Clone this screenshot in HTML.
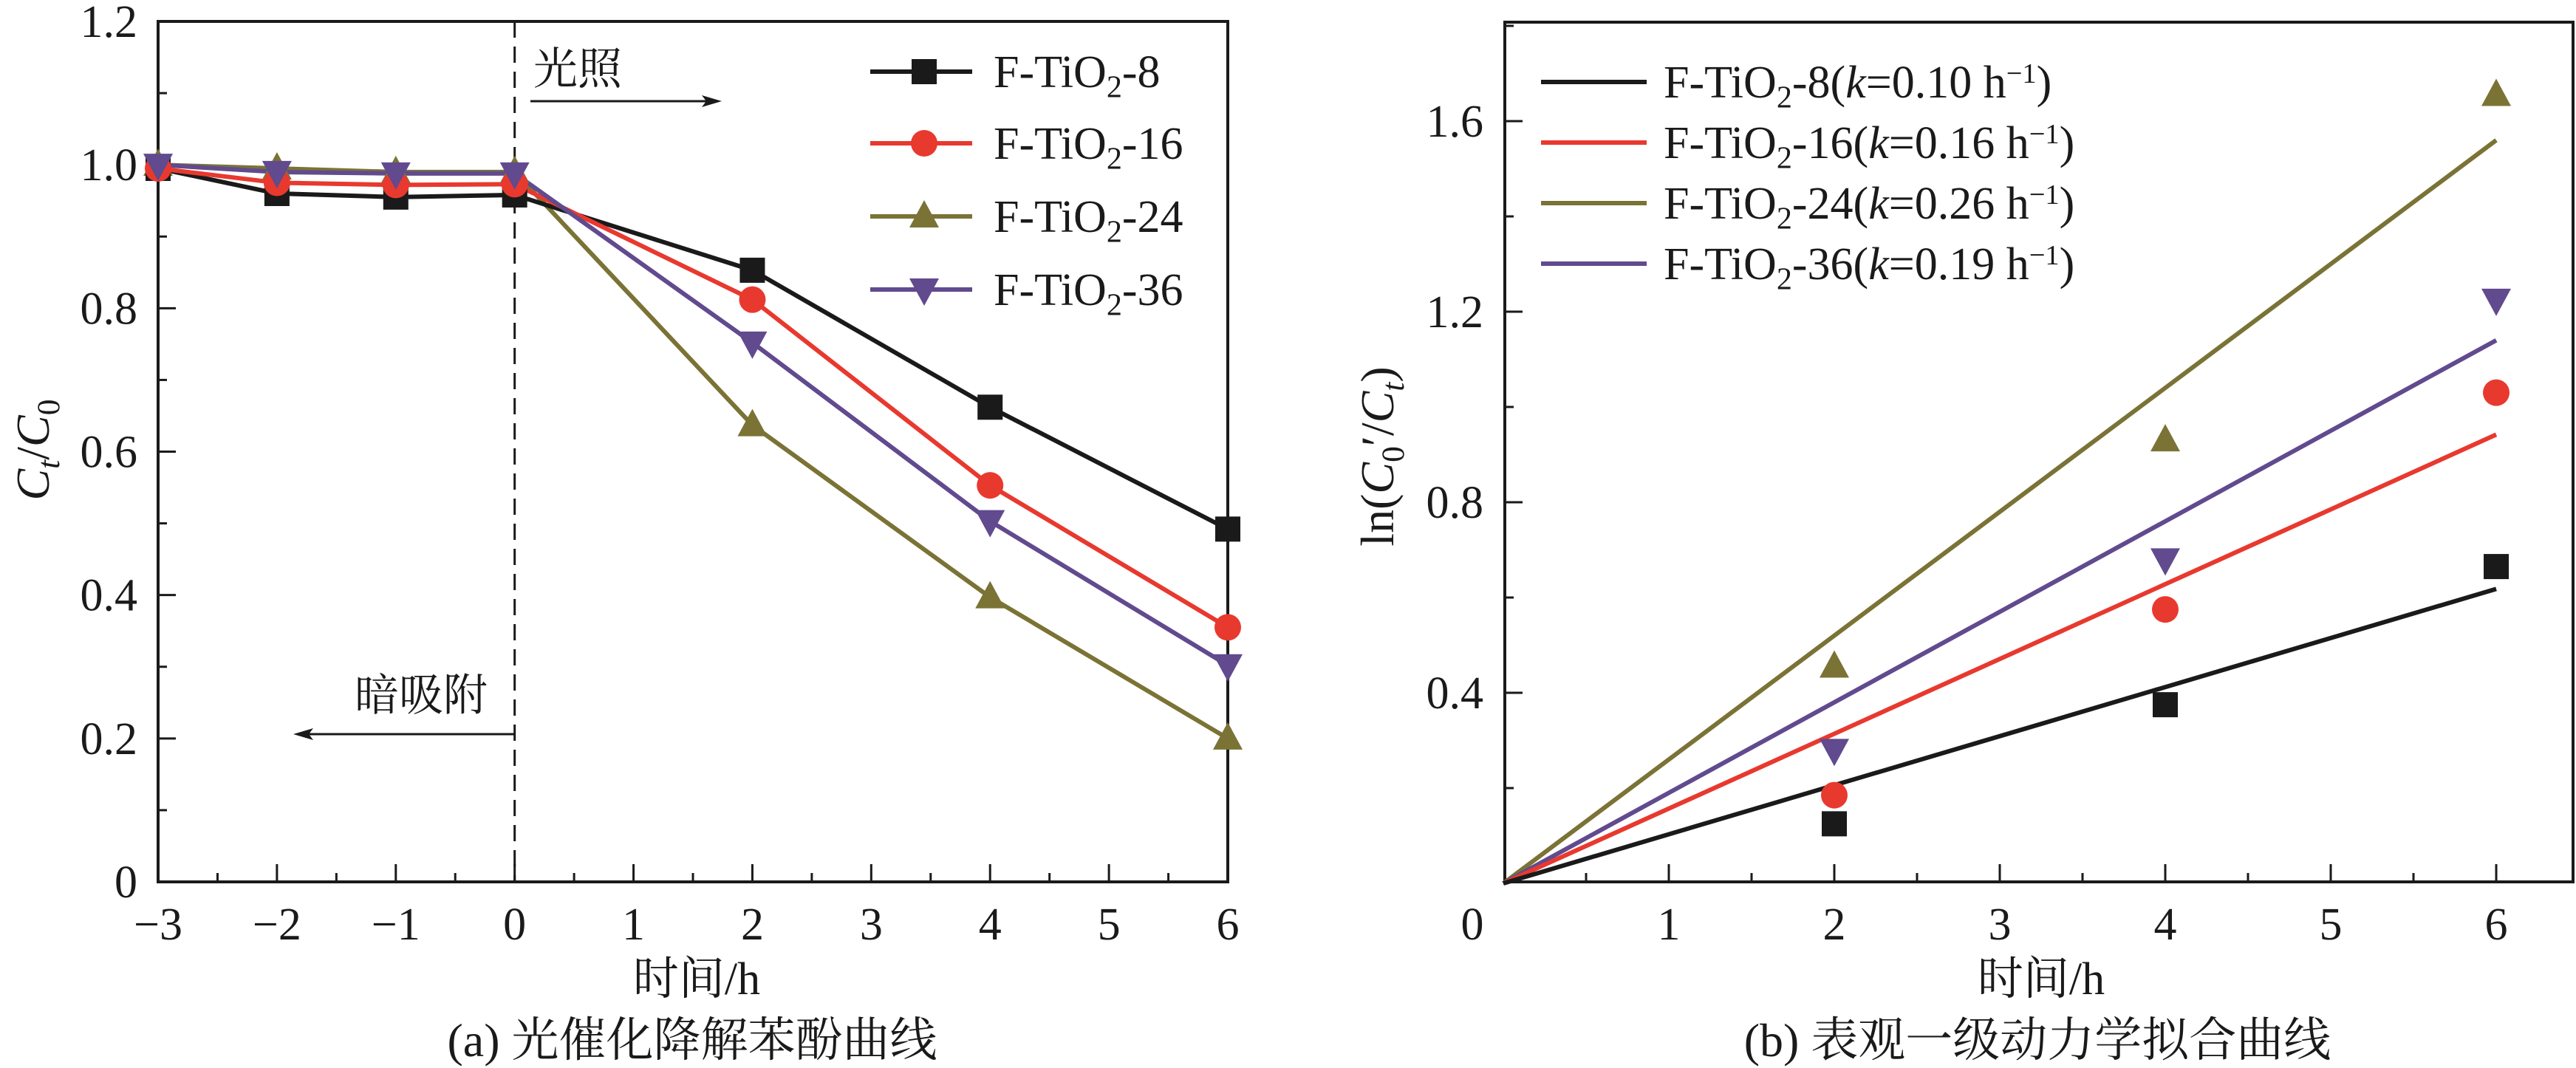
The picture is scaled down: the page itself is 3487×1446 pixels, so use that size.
<!DOCTYPE html>
<html><head><meta charset="utf-8"><style>
html,body{margin:0;padding:0;background:#fff;}
svg{display:block;font-family:"Liberation Serif","Noto Serif CJK SC",serif;}
</style></head><body>
<svg id="fig" width="3487" height="1446" viewBox="0 0 3487 1446" xmlns="http://www.w3.org/2000/svg">
<g id="pa"></g>
<g id="pb"></g>
</svg>
<script>
// Panel (a) data
const timesA = [-3, -2, -1, 0, 2, 4, 6];
const seriesNames = ["F-TiO2-8", "F-TiO2-16", "F-TiO2-24", "F-TiO2-36"];
const valsA8  = [0.995, 0.960, 0.955, 0.958, 0.853, 0.662, 0.492];
const valsA16 = [0.995, 0.975, 0.972, 0.973, 0.812, 0.553, 0.355];
const valsA24 = [1.000, 0.995, 0.990, 0.990, 0.637, 0.397, 0.200];
const valsA36 = [1.000, 0.990, 0.988, 0.988, 0.752, 0.503, 0.302];
const xTicksA = [-3, -2, -1, 0, 1, 2, 3, 4, 5, 6];
const yTicksA = [0, 0.2, 0.4, 0.6, 0.8, 1.0, 1.2];
// Panel (b) data
const timesB = [2, 4, 6];
const valsB8  = [0.125, 0.375, 0.665];
const valsB16 = [0.185, 0.575, 1.030];
const valsB24 = [0.455, 0.930, 1.655];
const valsB36 = [0.280, 0.680, 1.225];
const kVals = [0.103, 0.157, 0.260, 0.190];
const kLabels = ["0.10", "0.16", "0.26", "0.19"];
const xTicksB = [0, 1, 2, 3, 4, 5, 6];
const yTicksB = [0.4, 0.8, 1.2, 1.6];

const NS = "http://www.w3.org/2000/svg";
const colors = ["#1a1a1a", "#e8392f", "#7a7335", "#614a8e"];
const shapes = ["square", "circle", "up", "down"];
function mk(parent, tag, attrs, text) {
  const e = document.createElementNS(NS, tag);
  for (const k in attrs) e.setAttribute(k, attrs[k]);
  if (text !== undefined) e.textContent = text;
  parent.appendChild(e);
  return e;
}
function marker(g, shape, cx, cy, color) {
  let e;
  if (shape === "square") e = mk(g, "rect", {x: cx - 17, y: cy - 17, width: 34, height: 34, fill: color});
  else if (shape === "circle") e = mk(g, "circle", {cx: cx, cy: cy, r: 18, fill: color});
  else if (shape === "up") e = mk(g, "polygon", {points: `${cx},${cy - 22} ${cx - 20},${cy + 15} ${cx + 20},${cy + 15}`, fill: color});
  else e = mk(g, "polygon", {points: `${cx},${cy + 22} ${cx - 20},${cy - 15} ${cx + 20},${cy - 15}`, fill: color});
  return e;
}
function subText(g, x, y, size, parts, anchor) {
  const t = mk(g, "text", {x: x, y: y, "font-size": size, "text-anchor": anchor || "start", fill: "#1a1a1a"});
  let cur = 0;
  parts.forEach(p => {
    const s = mk(t, "tspan", {});
    s.textContent = p.t;
    let target = 0;
    if (p.sub) { target = size * 0.22; s.setAttribute("font-size", size * 0.68); }
    if (p.sup) { target = -size * 0.32; s.setAttribute("font-size", size * 0.62); }
    if (p.i) s.setAttribute("font-style", "italic");
    if (target !== cur) { s.setAttribute("dy", target - cur); cur = target; }
  });
  return t;
}

// ---------- Panel A ----------
const ga = document.getElementById("pa");
const AX0 = 214, AX1 = 1662, AY0 = 1194, AY1 = 29;
const axA = v => AX0 + (v + 3) * (AX1 - AX0) / 9;
const ayA = v => AY0 - v * (AY0 - AY1) / 1.2;
let e;
e = mk(ga, "rect", {x: AX0, y: AY1, width: AX1 - AX0, height: AY0 - AY1, fill: "none", stroke: "#1a1a1a", "stroke-width": 4});


for (let v = -3; v <= 6.001; v += 0.5) {
  const major = Math.abs(v - Math.round(v)) < 1e-6;
  e = mk(ga, "line", {x1: axA(v), x2: axA(v), y1: AY0, y2: AY0 - (major ? 24 : 12), stroke: "#1a1a1a", "stroke-width": 3});
  
  
}
xTicksA.forEach(v => {
  e = mk(ga, "text", {x: axA(v), y: 1272, "font-size": 62, "text-anchor": "middle", fill: "#1a1a1a"}, v < 0 ? "\u2212" + (-v) : String(v));
  
  
});
for (let v = 0.1; v < 1.2; v += 0.1) {
  const major = Math.round(v * 10) % 2 === 0;
  e = mk(ga, "line", {x1: AX0, x2: AX0 + (major ? 24 : 12), y1: ayA(v), y2: ayA(v), stroke: "#1a1a1a", "stroke-width": 3});
  
  
}
yTicksA.forEach(v => {
  e = mk(ga, "text", {x: 186, y: ayA(v) + 21, "font-size": 62, "text-anchor": "end", fill: "#1a1a1a"}, v === 0 ? "0" : v.toFixed(1));
  
  
});
e = mk(ga, "line", {x1: axA(0), x2: axA(0), y1: AY1, y2: AY0, stroke: "#1a1a1a", "stroke-width": 3, "stroke-dasharray": "22,12"});


e = mk(ga, "text", {x: 782, y: 114, "font-size": 60, "text-anchor": "middle", fill: "#1a1a1a"}, "光照");


e = mk(ga, "line", {x1: 718, x2: 960, y1: 137, y2: 137, stroke: "#1a1a1a", "stroke-width": 3});


e = mk(ga, "polygon", {points: "977,137 950,129 956,137 950,145", fill: "#1a1a1a"});


e = mk(ga, "text", {x: 570, y: 962, "font-size": 60, "text-anchor": "middle", fill: "#1a1a1a"}, "暗吸附");


e = mk(ga, "line", {x1: 412, x2: 697, y1: 994, y2: 994, stroke: "#1a1a1a", "stroke-width": 3});


e = mk(ga, "polygon", {points: "397,994 424,986 418,994 424,1002", fill: "#1a1a1a"});


const seriesA = [valsA8, valsA16, valsA24, valsA36];
const drawOrder = [2, 0, 1, 3];
drawOrder.forEach(i => {
  const vals = seriesA[i];
  const pts = timesA.map((t, j) => axA(t) + "," + ayA(vals[j])).join(" ");
  e = mk(ga, "polyline", {points: pts, fill: "none", stroke: colors[i], "stroke-width": 6});
  
  
});
drawOrder.forEach(i => {
  const vals = seriesA[i];
  timesA.forEach((t, j) => {
    e = marker(ga, shapes[i], axA(t), ayA(vals[j]), colors[i]);
    
    
  });
});
const legA = mk(ga, "g", {});


const legAY = [97, 194, 293, 392];
seriesNames.forEach((n, i) => {
  const y = legAY[i];
  e = mk(legA, "line", {x1: 1178, x2: 1316, y1: y, y2: y, stroke: colors[i], "stroke-width": 6});
  
  
  e = marker(legA, shapes[i], 1251, y, colors[i]);
  
  
  e = subText(legA, 1345, y + 21, 62, [{t: "F-TiO"}, {t: "2", sub: true}, {t: n.slice(6)}]);
  
  
});
e = subText(ga, 0, 0, 64, [{t: "C", i: true}, {t: "t", i: true, sub: true}, {t: "/"}, {t: "C", i: true}, {t: "0", sub: true}], "middle");
e.setAttribute("transform", "translate(66,609) rotate(-90)");


e = mk(ga, "text", {x: 943, y: 1346, "font-size": 62, "text-anchor": "middle", fill: "#1a1a1a"}, "时间/h");


e = mk(ga, "text", {x: 937, y: 1430, "font-size": 64, "text-anchor": "middle", fill: "#1a1a1a"}, "(a) 光催化降解苯酚曲线");



// ---------- Panel B ----------
const gb = document.getElementById("pb");
const BX0 = 2037, BX1 = 3485, BY0 = 1194, BY1 = 30;
const bxOrigin = 2035, bxUnit = 224, byOrigin = 1196, byUnit = 645;
const axB = v => bxOrigin + v * bxUnit;
const ayB = v => byOrigin - v * byUnit;
e = mk(gb, "rect", {x: BX0, y: BY1, width: BX1 - BX0 - 2, height: BY0 - BY1, fill: "none", stroke: "#1a1a1a", "stroke-width": 4});


for (let v = 0.5; v <= 6.001; v += 0.5) {
  const major = Math.abs(v - Math.round(v)) < 1e-6;
  e = mk(gb, "line", {x1: axB(v), x2: axB(v), y1: BY0, y2: BY0 - (major ? 24 : 12), stroke: "#1a1a1a", "stroke-width": 3});
  
  
}
xTicksB.forEach(v => {
  e = mk(gb, "text", {x: v === 0 ? 1993 : axB(v), y: 1272, "font-size": 62, "text-anchor": "middle", fill: "#1a1a1a"}, String(v));
  
  
});
for (let v = 0.2; v < 1.8; v += 0.2) {
  const major = Math.round(v * 10) % 4 === 0;
  e = mk(gb, "line", {x1: BX0, x2: BX0 + (major ? 24 : 12), y1: ayB(v), y2: ayB(v), stroke: "#1a1a1a", "stroke-width": 3});
  
  
}
yTicksB.forEach(v => {
  e = mk(gb, "text", {x: 2008, y: ayB(v) + 21, "font-size": 62, "text-anchor": "end", fill: "#1a1a1a"}, v.toFixed(1));
  
  
});
const seriesB = [valsB8, valsB16, valsB24, valsB36];
[2, 3, 1, 0].forEach(i => {
  e = mk(gb, "line", {x1: axB(0), y1: ayB(0), x2: axB(6), y2: ayB(kVals[i] * 6), stroke: colors[i], "stroke-width": 6});
  
  
});
[0, 1, 2, 3].forEach(i => {
  timesB.forEach((t, j) => {
    e = marker(gb, shapes[i], axB(t), ayB(seriesB[i][j]), colors[i]);
    
    
  });
});
const legB = mk(gb, "g", {});


const legBY = [111, 193, 275, 357];
seriesNames.forEach((n, i) => {
  const y = legBY[i];
  e = mk(legB, "line", {x1: 2086, x2: 2229, y1: y, y2: y, stroke: colors[i], "stroke-width": 6});
  
  
  e = subText(legB, 2252, y + 21, 62, [{t: "F-TiO"}, {t: "2", sub: true}, {t: n.slice(6) + "("}, {t: "k", i: true}, {t: "=" + kLabels[i] + " h"}, {t: "\u22121", sup: true}, {t: ")"}]);
  
  
});
e = subText(gb, 0, 0, 64, [{t: "ln("}, {t: "C", i: true}, {t: "0", sub: true}, {t: "\u2032/"}, {t: "C", i: true}, {t: "t", i: true, sub: true}, {t: ")"}], "middle");
e.setAttribute("transform", "translate(1886,618) rotate(-90)");


e = mk(gb, "text", {x: 2763, y: 1346, "font-size": 62, "text-anchor": "middle", fill: "#1a1a1a"}, "时间/h");


e = mk(gb, "text", {x: 2758, y: 1430, "font-size": 64, "text-anchor": "middle", fill: "#1a1a1a"}, "(b) 表观一级动力学拟合曲线");


</script>
</body></html>
